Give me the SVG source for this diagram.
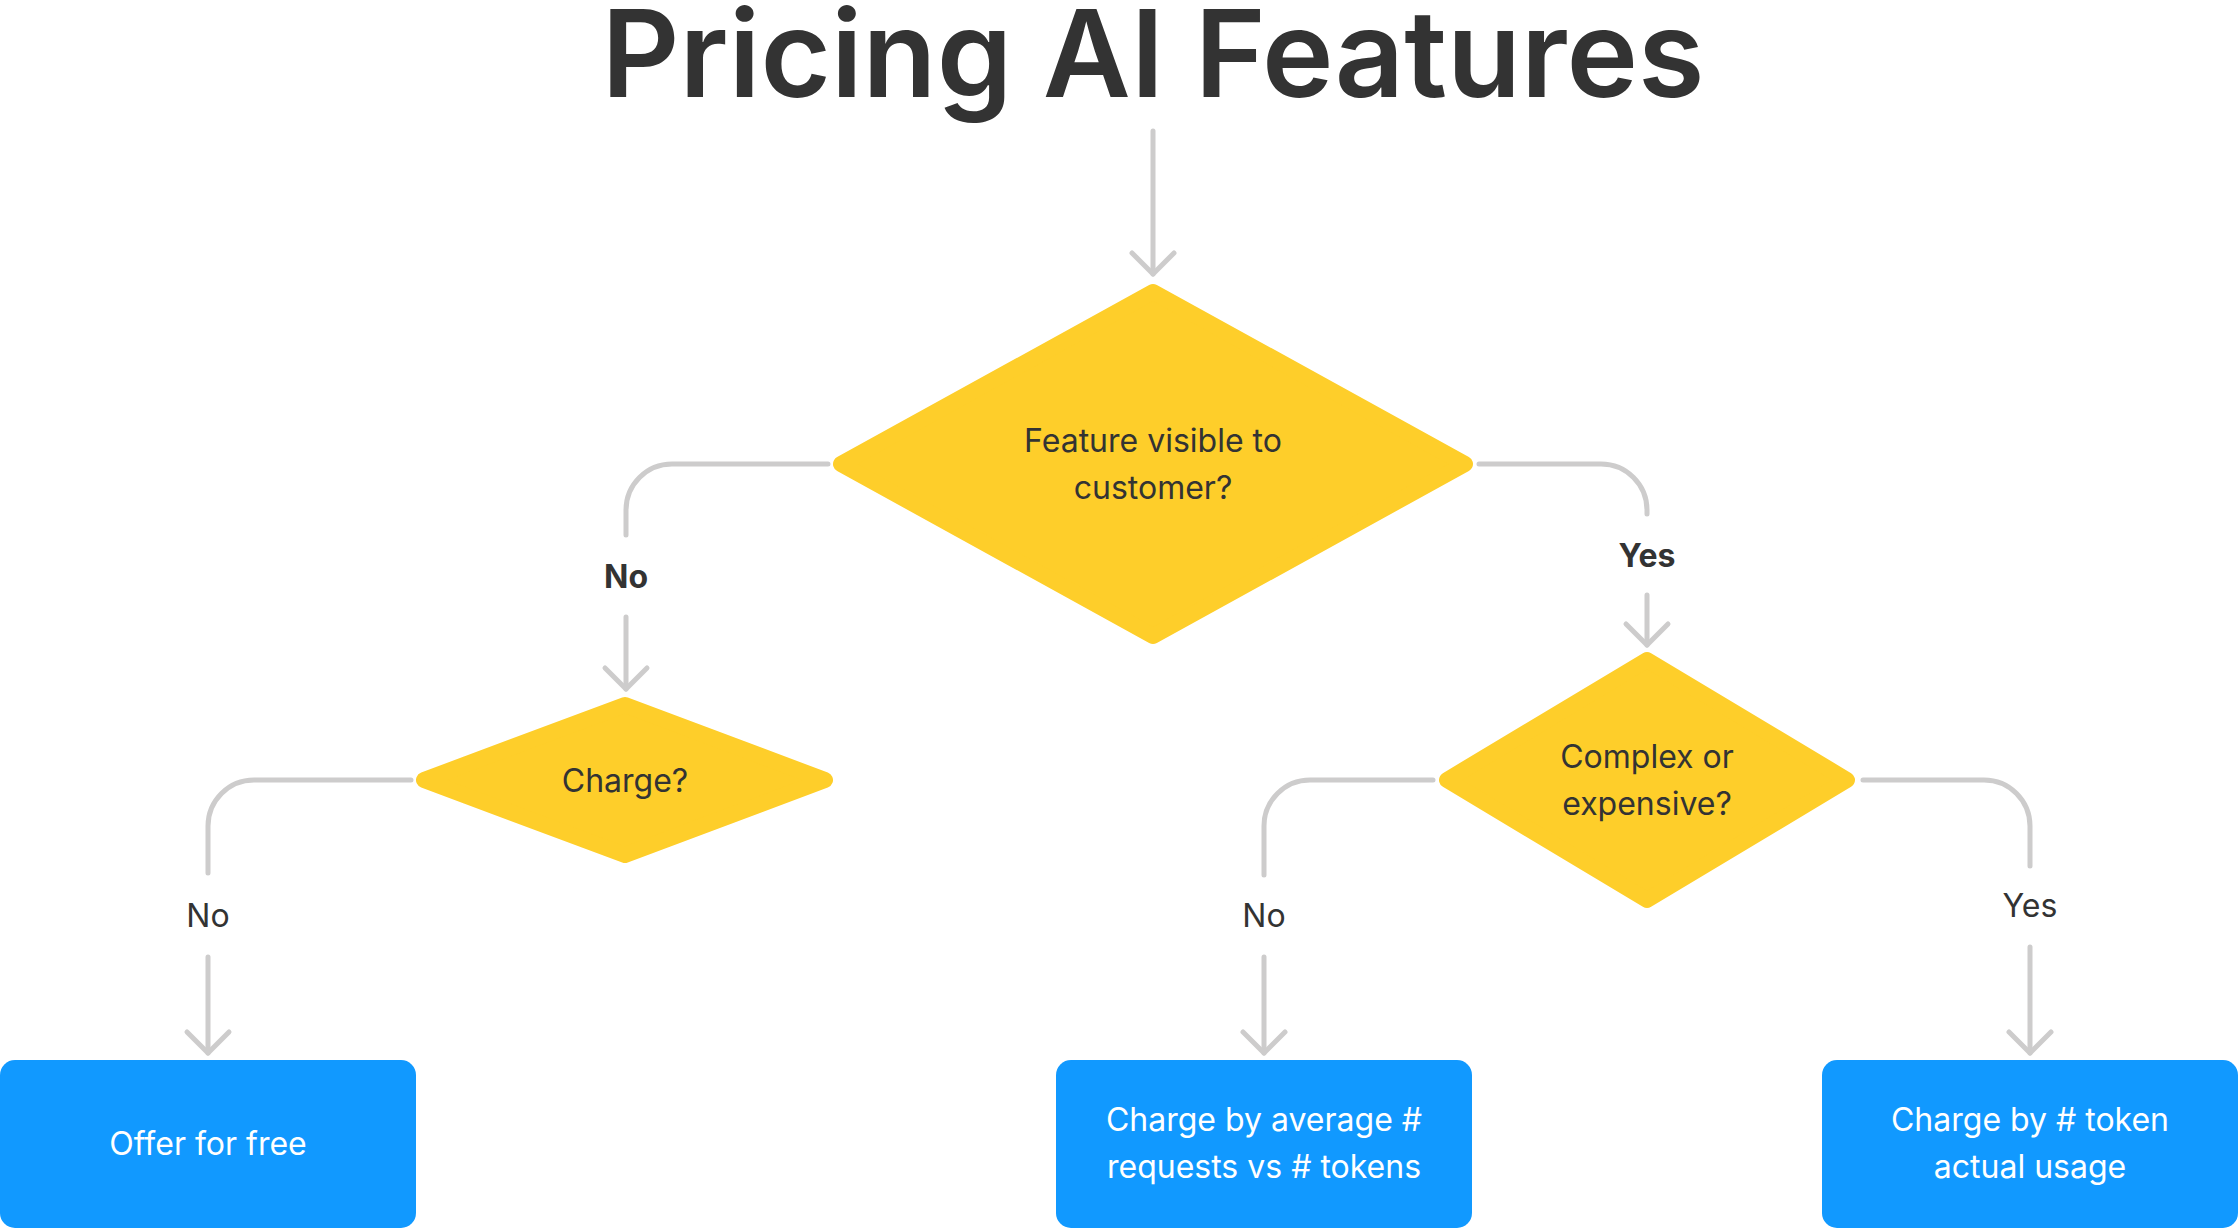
<svg xmlns="http://www.w3.org/2000/svg" width="2238" height="1228" viewBox="0 0 2238 1228">
  <defs>
    <style>
      .title { font-family: Inter, "Liberation Sans", sans-serif; font-weight: 600; font-size: 121px; fill: #333333; text-anchor: middle; }
      .dtext { font-family: Inter, "Liberation Sans", sans-serif; font-weight: 400; font-size: 32px; fill: #333333; text-anchor: middle; }
      .btext { font-family: Inter, "Liberation Sans", sans-serif; font-weight: 400; font-size: 32px; fill: #ffffff; text-anchor: middle; }
      .lbl { font-family: Inter, "Liberation Sans", sans-serif; font-size: 32px; fill: #333333; text-anchor: middle; }
      .lblb { font-weight: 700; }
      .dia { fill: #FECE2A; stroke: #FECE2A; stroke-width: 16; stroke-linejoin: round; }
      .box { fill: #1199FF; }
      .conn { fill: none; stroke: #CDCCCC; stroke-width: 5; stroke-linecap: round; stroke-linejoin: round; }
    </style>
  </defs>
  <rect width="2238" height="1228" fill="#ffffff"/>
  <text class="title" x="1153" y="97">Pricing AI Features</text>

  <g id="connectors">
    <!-- entry -->
    <path class="conn" d="M1153 131 V274"/>
    <path class="conn" d="M1132 253 L1153 274 L1174 253"/>
    <!-- main -> No -> Charge? -->
    <path class="conn" d="M828 464 H672 A46 46 0 0 0 626 510 V535"/>
    <path class="conn" d="M626 617 V689"/>
    <path class="conn" d="M605 668 L626 689 L647 668"/>
    <!-- main -> Yes -> Complex -->
    <path class="conn" d="M1479 464 H1601 A46 46 0 0 1 1647 510 V514"/>
    <path class="conn" d="M1647 595 V645"/>
    <path class="conn" d="M1626 624 L1647 645 L1668 624"/>
    <!-- Charge? -> No -> Offer -->
    <path class="conn" d="M411 780 H254 A46 46 0 0 0 208 826 V873"/>
    <path class="conn" d="M208 957 V1053"/>
    <path class="conn" d="M187 1032 L208 1053 L229 1032"/>
    <!-- Complex -> No -->
    <path class="conn" d="M1433 780 H1310 A46 46 0 0 0 1264 826 V875"/>
    <path class="conn" d="M1264 957 V1053"/>
    <path class="conn" d="M1243 1032 L1264 1053 L1285 1032"/>
    <!-- Complex -> Yes -->
    <path class="conn" d="M1863 780 H1984 A46 46 0 0 1 2030 826 V866"/>
    <path class="conn" d="M2030 947 V1053"/>
    <path class="conn" d="M2009 1032 L2030 1053 L2051 1032"/>
    <!-- labels -->
    <text class="lbl lblb" x="626" y="588">No</text>
    <text class="lbl lblb" x="1647" y="567">Yes</text>
    <text class="lbl" x="208" y="927">No</text>
    <text class="lbl" x="1264" y="927">No</text>
    <text class="lbl" x="2030" y="917">Yes</text>
  </g>

  <g id="node-visible">
    <polygon class="dia" points="1153,292 1465,464 1153,636 841,464"/>
    <text class="dtext" x="1153" y="452">Feature visible to</text>
    <text class="dtext" x="1153" y="499">customer?</text>
  </g>

  <g id="node-charge">
    <polygon class="dia" points="625,705 825,780 625,855 424,780"/>
    <text class="dtext" x="625" y="792">Charge?</text>
  </g>

  <g id="node-complex">
    <polygon class="dia" points="1647,660 1847,780 1647,900 1447,780"/>
    <text class="dtext" x="1647" y="768">Complex or</text>
    <text class="dtext" x="1647" y="815">expensive?</text>
  </g>

  <g id="node-free">
    <rect class="box" x="0" y="1060" width="416" height="168" rx="15"/>
    <text class="btext" x="208" y="1155">Offer for free</text>
  </g>

  <g id="node-average">
    <rect class="box" x="1056" y="1060" width="416" height="168" rx="15"/>
    <text class="btext" x="1264" y="1131">Charge by average #</text>
    <text class="btext" x="1264" y="1178">requests vs # tokens</text>
  </g>

  <g id="node-token">
    <rect class="box" x="1822" y="1060" width="416" height="168" rx="15"/>
    <text class="btext" x="2030" y="1131">Charge by # token</text>
    <text class="btext" x="2030" y="1178">actual usage</text>
  </g>
</svg>
